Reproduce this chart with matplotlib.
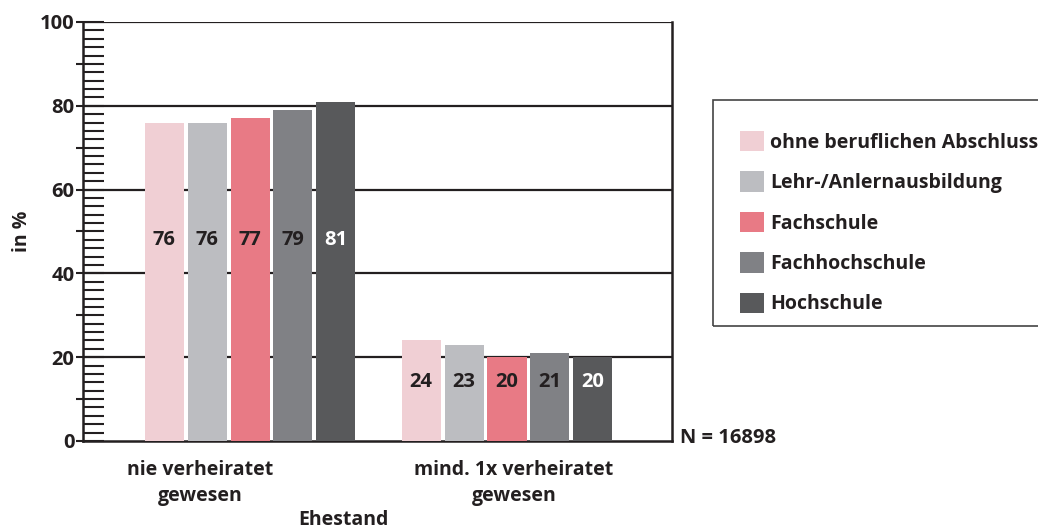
"""
Ehestand nach beruflichem Abschluss - Balkendiagramm
"""
import matplotlib
matplotlib.use("Agg")
import matplotlib.pyplot as plt
from matplotlib.patches import Patch, Rectangle
from matplotlib.ticker import MultipleLocator, FuncFormatter
import numpy as np

plt.rcParams['font.family'] = ['Open Sans', 'DejaVu Sans']
plt.rcParams['font.weight'] = 'bold'

categories = ['nie verheiratet\ngewesen', 'mind. 1x verheiratet\ngewesen']
series = ['ohne beruflichen Abschluss', 'Lehr-/Anlernausbildung', 'Fachschule',
          'Fachhochschule', 'Hochschule']
values = [
    [76, 24],
    [76, 23],
    [77, 20],
    [79, 21],
    [81, 20],
]
colors = ['#f0cfd4', '#bcbdc1', '#e87a85', '#808185', '#58595b']
label_colors = ['#231f20', '#231f20', '#231f20', '#231f20', '#ffffff']

ink = '#231f20'
W, H = 1038, 530
fig = plt.figure(figsize=(W / 100, H / 100), dpi=100)
ax = fig.add_axes([83 / W, 1 - 441 / H, (672 - 83) / W, (441 - 22) / H])

x = np.arange(len(categories))
width = 0.152
step = 0.167
label_y = [48, 14]
for i, (name, vals) in enumerate(zip(series, values)):
    pos = x + (i - 2) * step
    ax.bar(pos, vals, width, color=colors[i], zorder=3, label=name)
    for p, v, ly in zip(pos, vals, label_y):
        ax.text(p, ly, str(v), ha='center', va='center', fontsize=14.5,
                fontweight='bold', color=label_colors[i], zorder=4)

ax.set_xlim(-0.65, 1.642)
ax.set_ylim(0, 100)

# gridlines at every 20
for g in range(20, 101, 20):
    ax.axhline(g, color=ink, lw=1.6, zorder=1)

ax.yaxis.set_major_locator(MultipleLocator(10))
ax.yaxis.set_minor_locator(MultipleLocator(2))
ax.yaxis.remove_overlapping_locs = False
ax.yaxis.set_major_formatter(FuncFormatter(lambda v, p: f'{int(v)}' if int(v) % 20 == 0 else ''))
ax.tick_params(axis='y', which='major', direction='out', length=5, width=1.5,
               color=ink, labelsize=14.5, labelcolor=ink, pad=1)
ax.tick_params(axis='y', which='minor', direction='in', length=15, width=1.5, color=ink)
for lab in ax.get_yticklabels():
    lab.set_fontweight('bold')

ax.set_xticks(x + np.array([-0.195, 0.027]))
ax.set_xticklabels(categories, fontsize=14, fontweight='bold', color=ink, linespacing=1.35)
ax.tick_params(axis='x', length=0, pad=14)

ax.spines['top'].set_visible(False)
for s in ['left', 'right', 'bottom']:
    ax.spines[s].set_color(ink)
    ax.spines[s].set_linewidth(1.8)

ax.set_ylabel('in %', fontsize=14, fontweight='bold', color=ink, labelpad=6)
fig.text(343 / W, 1 - 520 / H, 'Ehestand', ha='center', va='center',
         fontsize=14, fontweight='bold', color=ink)
fig.text(680 / W, 1 - 438 / H, 'N = 16898', ha='left', va='center',
         fontsize=14.5, fontweight='bold', color=ink)

# legend box, running off the right edge
fig.patches.append(Rectangle((713 / W, 1 - 326 / H), 400 / W, 226 / H,
                             transform=fig.transFigure, fill=False,
                             edgecolor='#444444', lw=1.2))
handles = [Patch(facecolor=c, edgecolor='none') for c in colors]
leg = fig.legend(handles, series, loc='upper left',
                 bbox_to_anchor=(740 / W, 1 - 131 / H), borderaxespad=0,
                 borderpad=0, frameon=False, fontsize=14,
                 handlelength=1.24, handleheight=1.24, handletextpad=0.3,
                 labelspacing=0.96)
for t in leg.get_texts():
    t.set_fontweight('bold')
    t.set_color(ink)

fig.savefig('out.png', dpi=100)
